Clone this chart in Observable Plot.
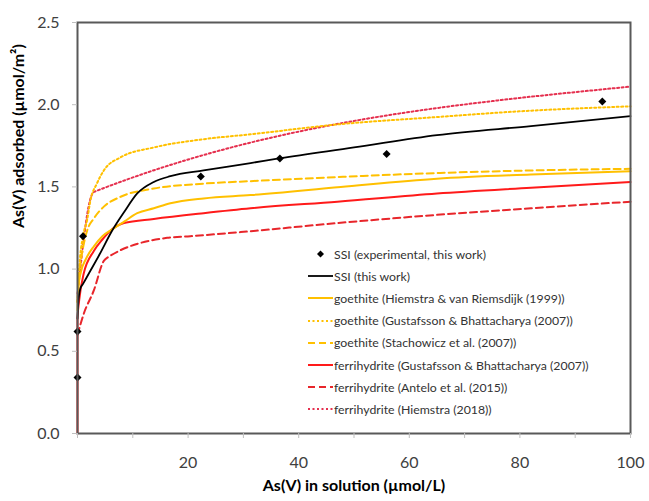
<!DOCTYPE html>
<html><head><meta charset="utf-8">
<script src="https://cdn.jsdelivr.net/npm/d3@7"></script>
<script src="https://cdn.jsdelivr.net/npm/@observablehq/plot@0.6"></script>
<style>
body{margin:0;background:#fff;}
#wrap{position:relative;width:649px;height:501px;overflow:hidden;}
#legend{position:absolute;left:308px;top:243px;font-family:Lato,sans-serif;font-size:12.3px;color:#333;}
.row{height:22.2px;display:flex;align-items:center;white-space:nowrap;}
.row svg{margin-right:1px;}
</style></head><body><div id="wrap"><div id="chart"></div><div id="legend"></div></div>
<script>
// experimental points
const expX = [0, 0, 1.0, 22.3, 36.6, 55.9, 94.9];
const expY = [0.34, 0.62, 1.20, 1.563, 1.673, 1.70, 2.02];

// model curves
const ssiX = [0, 0.15, 0.5, 1, 2, 4, 6.2, 8.5, 10.8, 13.8, 16.8, 22.8, 31.3, 36.7, 50, 65, 82, 100];
const ssiY = [0.7, 0.8, 0.88, 0.91, 0.97, 1.09, 1.23, 1.35, 1.46, 1.53, 1.565, 1.60, 1.645, 1.675, 1.74, 1.815, 1.87, 1.93];

const goeHiemX = [0, 0.2, 0.6, 1.5, 3, 4.5, 6.2, 8.5, 10.8, 13.8, 16.8, 22.8, 31.3, 47.6, 65, 82, 100];
const goeHiemY = [0.75, 0.9, 0.98, 1.06, 1.14, 1.2, 1.24, 1.29, 1.34, 1.37, 1.40, 1.43, 1.45, 1.50, 1.55, 1.575, 1.595];

const goeGustX = [0, 0.3, 1, 1.75, 2.35, 3.5, 4.76, 7.8, 13.8, 22.8, 31.3, 47, 65, 80, 100];
const goeGustY = [0.8, 1.0, 1.2, 1.3, 1.42, 1.52, 1.60, 1.68, 1.74, 1.79, 1.82, 1.88, 1.925, 1.96, 1.99];

const goeStachX = [0, 0.2, 0.5, 1, 1.75, 3, 4.76, 7.8, 13.8, 22.8, 31.3, 47, 65.6, 82, 100];
const goeStachY = [0.8, 0.95, 1.03, 1.13, 1.235, 1.31, 1.38, 1.44, 1.49, 1.52, 1.535, 1.56, 1.585, 1.60, 1.61];

const ferGustX = [0, 0, 0.3, 1.1, 2.95, 4.5, 6.0, 8.4, 13.8, 22.8, 31.3, 47, 65, 82, 100];
const ferGustY = [0, 0.7, 0.81, 0.97, 1.11, 1.18, 1.235, 1.28, 1.305, 1.34, 1.37, 1.41, 1.46, 1.495, 1.53];

const ferAnteloX = [0, 1.15, 2.95, 4.76, 5.4, 16.2, 20.4, 29.5, 47, 65, 82, 100];
const ferAnteloY = [0.6, 0.73, 0.87, 1.05, 1.07, 1.19, 1.20, 1.225, 1.28, 1.33, 1.37, 1.41];

const ferHiemX = [0, 0.5, 1.2, 2, 3, 100];
const ferHiemY = [0.85, 1.0, 1.2, 1.38, 1.47, 2.11];

const xTicks = [0, 10, 20, 30, 40, 50, 60, 70, 80, 90, 100];
const xTickLabels = ["", "", "20", "", "40", "", "60", "", "80", "", "100"];
const yTicks = [0, 0.5, 1, 1.5, 2, 2.5];
const yTickLabels = ["0.0", "0.5", "1.0", "1.5", "2.0", "2.5"];

const xTitle = "As(V) in solution (µmol/L)";
const yTitle = "As(V) adsorbed (µmol/m²)";

const expLabel = "SSI (experimental, this work)";
const seriesNames = [
  "SSI (this work)",
  "goethite (Hiemstra & van Riemsdijk (1999))",
  "goethite (Gustafsson & Bhattacharya (2007))",
  "goethite (Stachowicz et al. (2007))",
  "ferrihydrite (Gustafsson & Bhattacharya (2007))",
  "ferrihydrite (Antelo et al. (2015))",
  "ferrihydrite (Hiemstra (2018))"
];
const seriesX = [ssiX, goeHiemX, goeGustX, goeStachX, ferGustX, ferAnteloX, ferHiemX];
const seriesY = [ssiY, goeHiemY, goeGustY, goeStachY, ferGustY, ferAnteloY, ferHiemY];

// styles
const styles = [
  {stroke: "#000000", strokeWidth: 1.8, dash: null},
  {stroke: "#FFC000", strokeWidth: 2, dash: null},
  {stroke: "#FFC000", strokeWidth: 2, dash: "2,2.5"},
  {stroke: "#FFC000", strokeWidth: 2, dash: "7,4"},
  {stroke: "#FF1A1A", strokeWidth: 2, dash: null},
  {stroke: "#E8262B", strokeWidth: 2, dash: "7,4"},
  {stroke: "#E5304F", strokeWidth: 2, dash: "2,2.5"}
];

const expData = expX.map((x, i) => ({x, y: expY[i]}));
const lineMarks = seriesNames.map((name, s) => {
  const data = seriesX[s].map((x, i) => ({x, y: seriesY[s][i]}));
  const st = styles[s];
  return Plot.line(data, {x: "x", y: "y", stroke: st.stroke, strokeWidth: st.strokeWidth,
    strokeDasharray: st.dash, curve: "monotone-x"});
});
// draw order: reds first, yellow, black on top
const order = [4, 5, 6, 1, 3, 2, 0];

const xLabelMap = new Map(xTicks.map((t, i) => [t, xTickLabels[i]]));
const yLabelMap = new Map(yTicks.map((t, i) => [t, yTickLabels[i]]));

const plot = Plot.plot({
  width: 649,
  height: 501,
  marginLeft: 77,
  marginRight: 19,
  marginTop: 22,
  marginBottom: 68,
  style: {fontFamily: "Lato, sans-serif", fontSize: "16px", background: "#fff"},
  x: {domain: [0, 100]},
  y: {domain: [0, 2.5]},
  marks: [
    ...order.map(i => lineMarks[i]),
    Plot.dot(expData, {x: "x", y: "y", symbol: "diamond2", r: 3.6, fill: "#000", stroke: "none"}),
    Plot.frame({stroke: "#595959", strokeWidth: 2}),
    Plot.axisX({ticks: xTicks, tickFormat: d => xLabelMap.get(d), tickSize: 5, tickPadding: 18,
      stroke: "#bfbfbf", fill: "#404040", fontSize: 16, label: null}),
    Plot.axisY({ticks: yTicks, tickFormat: d => yLabelMap.get(d), tickSize: 5, tickPadding: 13,
      stroke: "#bfbfbf", fill: "#404040", fontSize: 16, label: null}),
    Plot.text([xTitle], {frameAnchor: "bottom", dy: 57, fontSize: 16, fontWeight: "bold", fill: "#000"}),
    Plot.text([yTitle], {frameAnchor: "left", rotate: -90, dx: -59, fontSize: 16, fontWeight: "bold", fill: "#000"})
  ]
});
document.getElementById("chart").appendChild(plot);

// legend
const legend = document.getElementById("legend");
function addRow(sampleSvg, label) {
  const row = document.createElement("div");
  row.className = "row";
  row.innerHTML = sampleSvg + "<span>" + label + "</span>";
  legend.appendChild(row);
}
addRow('<svg width="25" height="10"><path d="M12.5,1.5 L16,5 L12.5,8.5 L9,5 Z" fill="#000"/></svg>', expLabel);
seriesNames.forEach((name, s) => {
  const st = styles[s];
  addRow(`<svg width="25" height="10"><line x1="0" x2="25" y1="5" y2="5" stroke="${st.stroke}" stroke-width="${st.strokeWidth}" ${st.dash ? `stroke-dasharray="${st.dash}"` : ""}/></svg>`, name);
});
</script>
</body></html>
